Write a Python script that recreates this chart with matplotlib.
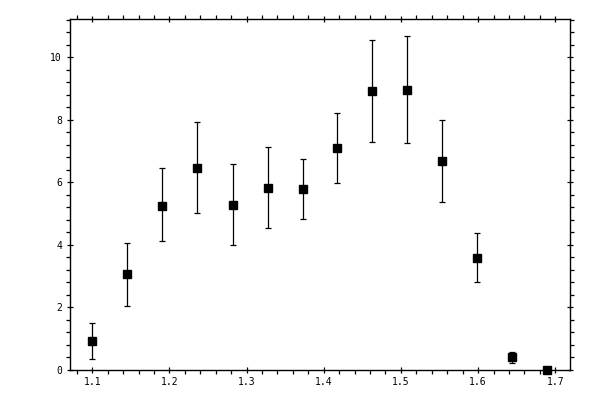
import numpy as np
import matplotlib
matplotlib.use('Agg')
import matplotlib.pyplot as plt
from matplotlib.ticker import MultipleLocator

# data
x = [1.1, 1.1455, 1.1909, 1.2364, 1.2818, 1.3273, 1.3727,
     1.4169, 1.4623, 1.5078, 1.5532, 1.5986, 1.644, 1.6895]
y = [0.9, 3.05, 5.25, 6.47, 5.26, 5.83, 5.77,
     7.08, 8.92, 8.95, 6.67, 3.58, 0.4, 0.0]
y_hi = [1.48, 4.04, 6.44, 7.92, 6.57, 7.12, 6.73,
        8.23, 10.56, 10.69, 7.98, 4.36, 0.56, 0.0]
y_lo = [0.33, 2.05, 4.11, 5.0, 3.98, 4.53, 4.81,
        5.96, 7.28, 7.24, 5.36, 2.8, 0.22, 0.0]

y = np.array(y)
err = [y - np.array(y_lo), np.array(y_hi) - y]

fig = plt.figure(figsize=(6, 4), dpi=100)
ax = fig.add_axes([0.116, 0.076, 0.834, 0.876])

ax.errorbar(x, y, yerr=err, fmt='s', color='black', ms=5.5, elinewidth=0.9,
            capsize=2.5, capthick=0.9, clip_on=False, zorder=3)

ax.set_xlim(1.0707, 1.7191)
ax.set_ylim(0, 11.22)
ax.xaxis.set_major_locator(MultipleLocator(0.1))
ax.xaxis.set_minor_locator(MultipleLocator(0.02))
ax.yaxis.set_major_locator(MultipleLocator(2))
ax.yaxis.set_minor_locator(MultipleLocator(0.4))

for s in ax.spines.values():
    s.set_linewidth(1.0)

ax.tick_params(which='major', direction='inout', length=5, width=0.9,
               top=True, right=True, labelsize=7, pad=3)
ax.tick_params(which='minor', direction='out', length=3, width=0.9,
               top=True, right=True)
for lab in ax.get_xticklabels() + ax.get_yticklabels():
    lab.set_family('DejaVu Sans Mono')

fig.savefig('out.png', dpi=100)
